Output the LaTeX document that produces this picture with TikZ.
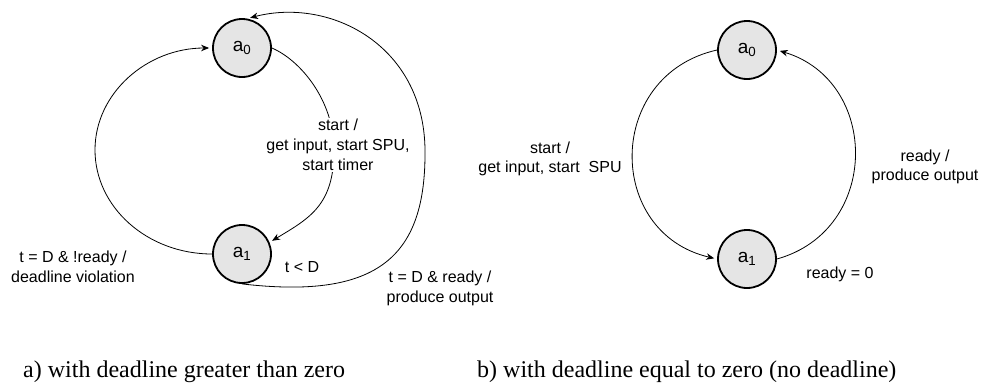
\documentclass[tikz,border=0pt]{standalone}
\usepackage{fontspec}
\setmainfont{Liberation Sans}
\newfontfamily\capfont{Liberation Serif}
\usetikzlibrary{arrows.meta}
\begin{document}
\begin{tikzpicture}[x=1pt,y=-1pt,
  state/.style={circle, draw, line width=1.8pt, fill=black!10, minimum size=58pt, inner sep=0pt, font=\fontsize{19}{22}\selectfont},
  edge/.style={line width=0.8pt, -{Stealth[length=8pt,width=6.5pt]}, shorten >=3pt},
  lbl/.style={font=\fontsize{16}{19.5}\selectfont, align=center, inner sep=1pt},
  captext/.style={font=\capfont\fontsize{24}{28}\selectfont, anchor=base west, inner sep=0pt}]
\useasboundingbox (0,0) rectangle (981,383);

% left diagram
\node[state] (la0) at (242,48) {a\textsubscript{0}};
\node[state] (la1) at (242,254) {a\textsubscript{1}};
\coordinate (ll) at (95,150);
\coordinate (lm) at (334,150);
\coordinate (lr) at (425,150);

\draw[edge] (la1.west) .. controls +(-65,0) and +(0,57) .. (ll)
  .. controls +(0,-57) and +(-65,0) .. (la0.west);
\draw[edge] (la0.east) .. controls (300,60) and (334,100) .. (lm)
  .. controls (334,205) and (310,218) .. (la1.23);
\draw[edge] (la1.south) .. controls (380,300) and (426,255) .. (lr)
  .. controls (424,45) and (330,-3) .. (la0.80);

\node[lbl] (l1) at (73,267) {t = D \& !ready /\\deadline violation};
\node[lbl, fill=white, font=\fontsize{16}{20}\selectfont] (l2) at (338,145) {start /\\get input, start SPU,\\start timer};
\node[lbl] (l3) at (302,267) {t < D};
\node[lbl] (l4) at (440,288.5) {t = D \& ready /\\produce output};

% right diagram
\node[state] (ra0) at (747,50) {a\textsubscript{0}};
\node[state] (ra1) at (747,259) {a\textsubscript{1}};
\draw[edge] (ra0.west) .. controls +(-112,25) and +(-112,-26) .. (ra1.west);
\draw[edge] (ra1.east) .. controls +(104,-29) and +(103,31) .. (ra0.east);

\node[lbl] (r1) at (550,159) {start /\\get input, start\ \ SPU};
\node[lbl] (r2) at (925,167) {ready /\\produce output};
\node[lbl] (r3) at (840,274) {ready = 0};

% captions
\node[captext] (c1) at (23,377) {a) with deadline greater than zero};
\node[captext] (c2) at (477,377) {b) with deadline equal to zero (no deadline)};
\end{tikzpicture}
\end{document}
